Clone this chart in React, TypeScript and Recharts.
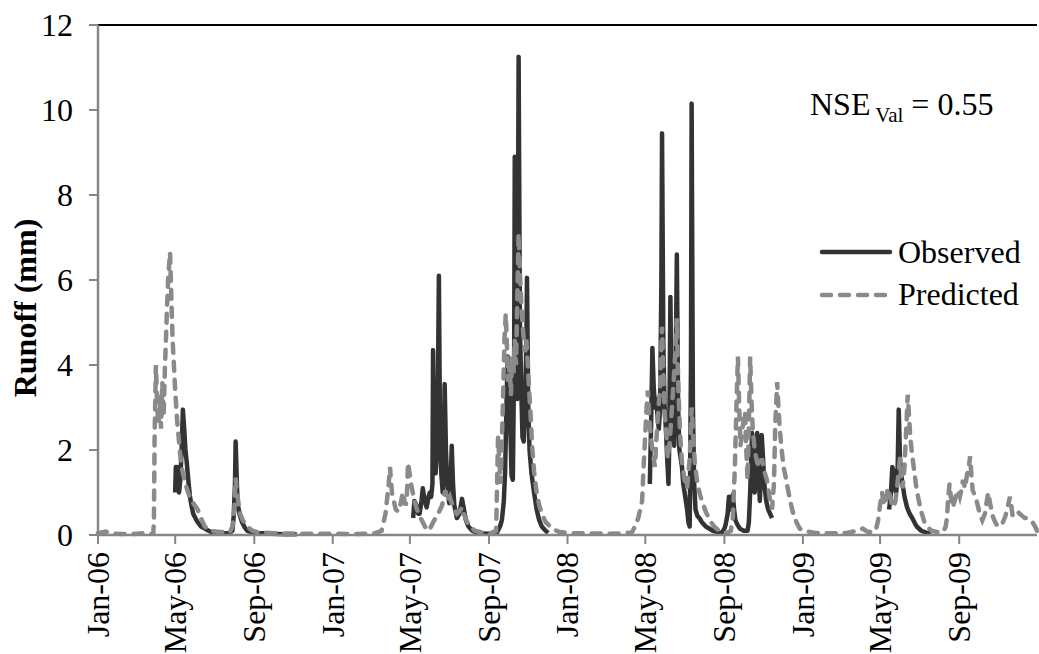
import { LineChart, Line, XAxis, YAxis, ReferenceLine, Legend } from 'recharts';

type Pt = [number, number];

const SERIF = "'Liberation Serif', 'Times New Roman', serif";

// x values are days counted from 1 Jan 2006
const tickDays = [0, 120, 243, 365, 485, 608, 730, 851, 974, 1096, 1216, 1339];
const tickLabels = [
  'Jan-06', 'May-06', 'Sep-06', 'Jan-07', 'May-07', 'Sep-07',
  'Jan-08', 'May-08', 'Sep-08', 'Jan-09', 'May-09', 'Sep-09',
];
const yTicks = [0, 2, 4, 6, 8, 10, 12];

// observed runoff (mm) - record has gaps between the wet seasons
const observed2006: Pt[] = [
  [120, 1.0], [121, 1.6], [123, 1.6], [124, 1.2], [126, 1.0], [128, 1.3], [130, 2.0], [132, 2.95],
  [134, 2.5], [136, 2.0], [138, 1.7], [141, 1.2], [143, 0.9], [146, 0.65], [148, 0.5], [152, 0.38],
  [155, 0.3], [160, 0.2], [166, 0.15], [172, 0.1], [179, 0.05], [194, 0.04], [205, 0.05], [209, 0.1],
  [211, 0.45], [213, 1.2], [214, 2.2], [216, 1.2], [217, 0.75], [220, 0.5], [224, 0.3], [228, 0.18],
  [232, 0.1], [240, 0.06], [247, 0.05], [270, 0.03], [290, 0.02], [309, 0.02],
];
const observed2007: Pt[] = [
  [490, 0.4], [492, 0.8], [495, 0.7], [498, 0.5], [500, 0.5], [503, 0.8], [505, 1.1], [508, 0.8],
  [511, 0.65], [514, 0.9], [516, 1.0], [518, 0.9], [520, 1.2], [521, 4.35], [523, 2.0], [525, 1.45],
  [528, 2.5], [530, 6.1], [532, 2.0], [534, 1.4], [536, 1.0], [538, 2.5], [539, 3.55], [541, 2.0],
  [543, 1.2], [546, 0.75], [548, 1.0], [550, 2.1], [552, 1.2], [554, 0.7], [558, 0.4], [562, 0.5],
  [566, 0.85], [569, 0.6], [572, 0.35], [576, 0.2], [582, 0.1], [590, 0.05], [605, 0.03], [620, 0.05],
  [625, 0.2], [628, 0.35], [631, 0.8], [633, 1.5], [635, 3.0], [637, 4.2], [639, 3.8], [641, 2.6],
  [643, 1.4], [645, 1.3], [647, 4.0], [648, 8.9], [650, 4.5], [652, 3.2], [654, 11.25], [656, 5.0],
  [658, 3.5], [660, 2.3], [662, 2.2], [664, 3.0], [666, 4.5], [667, 6.05], [669, 3.0], [671, 2.0],
  [674, 1.45], [678, 1.0], [682, 0.6], [686, 0.35], [690, 0.2], [696, 0.1], [700, 0.05],
];
const observed2008: Pt[] = [
  [858, 1.2], [860, 2.6], [862, 4.4], [864, 3.5], [866, 3.0], [868, 3.2], [870, 2.8], [872, 2.5],
  [874, 3.0], [876, 6.0], [877, 9.45], [879, 4.5], [881, 3.0], [883, 2.5], [885, 1.8], [887, 1.2],
  [888, 2.0], [890, 5.6], [892, 3.0], [894, 2.4], [896, 2.1], [898, 3.5], [900, 6.6], [902, 3.0],
  [904, 2.0], [906, 1.8], [908, 1.6], [910, 1.2], [912, 1.0], [914, 0.8], [916, 0.6], [918, 0.3],
  [920, 0.2], [922, 4.0], [923, 10.15], [925, 3.0], [927, 1.2], [929, 0.6], [932, 0.45], [935, 0.4],
  [939, 0.3], [945, 0.2], [956, 0.1], [965, 0.06], [970, 0.05], [974, 0.15], [976, 0.25], [979, 0.5],
  [981, 0.9], [983, 0.7], [985, 0.6], [987, 0.95], [989, 0.6], [991, 0.35], [994, 0.25], [998, 0.15],
  [1004, 0.1], [1010, 0.1], [1012, 0.3], [1014, 1.0], [1017, 2.4], [1019, 1.4], [1021, 1.0], [1023, 1.6],
  [1025, 2.4], [1027, 1.5], [1029, 0.8], [1031, 1.5], [1032, 2.35], [1034, 1.8], [1036, 1.2], [1039, 0.8],
  [1042, 0.6], [1045, 0.5], [1048, 0.4],
];
const observed2009: Pt[] = [
  [1230, 0.6], [1233, 1.0], [1235, 1.6], [1237, 1.5], [1239, 1.1], [1241, 1.0], [1243, 1.3], [1245, 2.95],
  [1247, 1.8], [1249, 1.4], [1251, 1.2], [1254, 0.9], [1258, 0.65], [1262, 0.5], [1266, 0.4], [1270, 0.28],
  [1273, 0.2], [1280, 0.1], [1289, 0.05], [1296, 0.03],
];

// predicted runoff (mm), continuous
const predicted2006: Pt[] = [
  [0, 0.04], [12, 0.08], [25, 0.03], [50, 0.02], [70, 0.04], [86, 0.03], [87, 0.4], [88, 2.3],
  [90, 4.0], [92, 3.0], [94, 2.6], [96, 3.3], [98, 2.5], [100, 3.6], [102, 2.8], [104, 3.9],
  [107, 5.2], [109, 6.0], [112, 6.65], [114, 5.6], [116, 4.6], [118, 4.0], [120, 3.4], [123, 2.7],
  [126, 2.2], [129, 1.7], [132, 1.45], [136, 1.2], [140, 1.0], [144, 0.85], [148, 0.75], [155, 0.6],
  [160, 0.4], [166, 0.2], [174, 0.1], [190, 0.07], [205, 0.06], [209, 0.2], [212, 0.6], [214, 1.35],
  [216, 1.0], [218, 0.8], [221, 0.5], [225, 0.35], [232, 0.2], [240, 0.1], [250, 0.06], [280, 0.04],
  [320, 0.03], [360, 0.03], [400, 0.02], [430, 0.04],
];
const predicted2007: Pt[] = [
  [441, 0.1], [447, 0.5], [452, 1.2], [454, 1.6], [457, 1.0], [460, 0.8], [463, 0.6], [467, 0.55],
  [470, 0.7], [474, 1.0], [478, 0.7], [480, 0.8], [482, 1.7], [485, 1.4], [488, 1.1], [492, 0.8],
  [496, 0.6], [500, 0.45], [505, 0.3], [510, 0.15], [514, 0.1], [518, 0.2], [521, 0.3], [525, 0.4],
  [529, 0.5], [532, 0.6], [535, 0.7], [538, 0.9], [540, 1.05], [542, 0.85], [544, 0.8], [547, 0.9],
  [550, 0.75], [554, 0.6], [558, 0.5], [562, 0.55], [566, 0.65], [570, 0.45], [574, 0.3], [580, 0.18],
  [586, 0.1], [600, 0.05], [612, 0.05], [619, 0.1], [620, 0.8], [622, 2.3], [624, 1.8], [626, 1.2],
  [629, 2.8], [632, 4.6], [634, 5.2], [636, 4.4], [638, 3.6], [640, 4.0], [642, 3.3], [644, 4.2],
  [646, 3.8], [648, 4.6], [650, 4.0], [652, 5.6], [654, 7.1], [656, 6.2], [658, 5.5], [660, 5.0],
  [662, 4.6], [664, 4.3], [666, 4.6], [668, 4.1], [670, 3.5], [672, 3.0], [675, 2.1], [678, 1.5],
  [682, 1.0], [686, 0.7], [690, 0.5], [696, 0.3], [703, 0.2], [710, 0.12], [718, 0.07], [730, 0.05],
  [742, 0.04],
];
const predicted2008: Pt[] = [
  [760, 0.04], [790, 0.03], [815, 0.04], [830, 0.06], [835, 0.2], [840, 0.4], [843, 0.6], [846, 0.8],
  [848, 1.5], [850, 2.1], [853, 3.0], [855, 3.4], [857, 2.8], [859, 2.4], [862, 2.0], [866, 1.6],
  [868, 2.2], [871, 2.9], [874, 3.5], [877, 4.9], [879, 3.8], [881, 2.9], [884, 2.3], [886, 1.8],
  [889, 2.2], [892, 2.9], [895, 3.6], [898, 4.4], [900, 5.1], [902, 3.6], [905, 2.4], [908, 1.7],
  [912, 1.3], [916, 1.1], [920, 1.8], [923, 3.0], [926, 2.2], [928, 1.7], [932, 1.2], [936, 0.95],
  [939, 0.8], [945, 0.55], [951, 0.35], [958, 0.2], [967, 0.08], [978, 0.05], [984, 0.1], [987, 0.4],
  [990, 1.5], [993, 3.2], [995, 4.2], [997, 3.0], [999, 2.1], [1002, 2.5], [1006, 2.9], [1008, 2.0],
  [1010, 1.3], [1012, 2.6], [1014, 4.2], [1016, 3.2], [1018, 2.5], [1021, 2.0], [1025, 1.7], [1029, 1.6],
  [1032, 1.8], [1036, 1.5], [1040, 1.3], [1044, 0.9], [1048, 0.6], [1051, 1.2], [1053, 2.6], [1056, 3.6],
  [1058, 3.0], [1060, 2.5], [1063, 2.0], [1066, 1.6], [1070, 1.3], [1073, 1.05], [1077, 0.75], [1081, 0.5],
  [1086, 0.3], [1091, 0.15], [1100, 0.09], [1107, 0.07],
];
const predicted2009: Pt[] = [
  [1115, 0.05], [1140, 0.04], [1165, 0.05], [1180, 0.1], [1189, 0.15], [1196, 0.08], [1205, 0.06], [1210, 0.15],
  [1213, 0.35], [1216, 0.7], [1219, 1.0], [1221, 0.8], [1223, 0.7], [1226, 0.9], [1228, 1.1], [1231, 0.95],
  [1234, 0.75], [1237, 0.65], [1240, 0.8], [1243, 1.2], [1245, 1.5], [1247, 1.8], [1249, 1.3], [1251, 1.1],
  [1254, 1.6], [1257, 2.6], [1259, 3.3], [1261, 2.8], [1263, 2.3], [1265, 2.0], [1267, 1.75], [1270, 1.4],
  [1273, 1.05], [1277, 0.75], [1281, 0.5], [1285, 0.3], [1289, 0.2], [1296, 0.1], [1304, 0.07], [1314, 0.07],
  [1318, 0.2], [1320, 0.4], [1322, 0.9], [1324, 1.2], [1326, 0.9], [1329, 0.65], [1332, 0.8], [1335, 1.0],
  [1337, 1.05], [1340, 0.9], [1343, 1.1], [1345, 1.3], [1348, 1.1], [1351, 1.4], [1354, 1.6], [1356, 1.85],
  [1358, 1.4], [1360, 1.05], [1363, 0.95], [1367, 0.75], [1371, 0.5], [1375, 0.35], [1379, 0.5], [1382, 0.8],
  [1384, 1.0], [1387, 0.75], [1391, 0.45], [1395, 0.3], [1399, 0.2], [1403, 0.25], [1407, 0.3], [1411, 0.45],
  [1415, 0.7], [1418, 0.9], [1420, 0.7], [1422, 0.45], [1426, 0.5], [1430, 0.55], [1433, 0.5], [1437, 0.45],
  [1441, 0.4], [1444, 0.4], [1448, 0.35], [1453, 0.3], [1457, 0.2], [1460, 0.1],
];

type Row = { day: number; runoff: number | null };

// join segments, putting a null between them so the line breaks
function toRows(segments: Pt[][], breakBetween: boolean): Row[] {
  const rows: Row[] = [];
  segments.forEach((seg, i) => {
    seg.forEach(([day, runoff]) => rows.push({ day, runoff }));
    if (breakBetween && i < segments.length - 1) {
      rows.push({ day: seg[seg.length - 1][0] + 1, runoff: null });
    }
  });
  return rows;
}

const observedRows = toRows([observed2006, observed2007, observed2008, observed2009], true);
const predictedRows = toRows([predicted2006, predicted2007, predicted2008, predicted2009], false);

const OBS_COLOR = '#333333';
const PRED_COLOR = '#8a8a8a';
const AXIS_COLOR = '#868686';
const PRED_DASH = '9 9';

const DateTick = (props: any) => {
  const { x, y, payload } = props;
  const label = tickLabels[tickDays.indexOf(payload.value)];
  return (
    <text
      x={x}
      y={y}
      dy="0.34em"
      transform={`rotate(-90 ${x} ${y})`}
      textAnchor="end"
      fontSize={32}
      style={{ fontFamily: SERIF }}
      fill="#000"
    >
      {label}
    </text>
  );
};

const YTitle = () => (
  <text
    x={25}
    y={308}
    dy="0.34em"
    transform="rotate(-90 25 308)"
    textAnchor="middle"
    fontSize={32}
    fontWeight="bold"
    style={{ fontFamily: SERIF }}
    fill="#000"
  >
    Runoff (mm)
  </text>
);

const LegendBox = () => (
  <svg width={220} height={90} style={{ display: 'block' }}>
    <line x1={4} x2={72} y1={20} y2={20} stroke={OBS_COLOR} strokeWidth={4.5} strokeLinecap="round" />
    <text x={80} y={31} fontSize={32} style={{ fontFamily: SERIF }} fill="#000">Observed</text>
    <line x1={4} x2={72} y1={63} y2={63} stroke={PRED_COLOR} strokeWidth={4.5} strokeDasharray={PRED_DASH} strokeLinecap="round" />
    <text x={80} y={73} fontSize={32} style={{ fontFamily: SERIF }} fill="#000">Predicted</text>
  </svg>
);

export default function App() {
  return (
    <div style={{ position: 'absolute', left: 0, top: 0, width: 1039, height: 654, background: '#fff', fontFamily: SERIF }}>
      <LineChart width={1039} height={654} margin={{ top: 25, right: 2, bottom: 0, left: 38 }}>
        <XAxis
          dataKey="day"
          type="number"
          domain={[0, 1460]}
          ticks={tickDays}
          interval={0}
          height={119}
          allowDuplicatedCategory={false}
          tick={<DateTick />}
          tickSize={9}
          tickMargin={8}
          axisLine={{ stroke: AXIS_COLOR, strokeWidth: 2.5 }}
          tickLine={{ stroke: AXIS_COLOR, strokeWidth: 2 }}
        />
        <YAxis
          type="number"
          domain={[0, 12]}
          ticks={yTicks}
          interval={0}
          width={60}
          tickSize={9}
          tickMargin={16}
          tick={{ fontSize: 32, fontFamily: SERIF, fill: '#000' }}
          axisLine={{ stroke: AXIS_COLOR, strokeWidth: 2.5 }}
          tickLine={{ stroke: AXIS_COLOR, strokeWidth: 2 }}
          label={<YTitle />}
        />
        <ReferenceLine y={12} stroke="#000" strokeWidth={2} />
        <Line
          data={observedRows}
          dataKey="runoff"
          name="Observed"
          type="linear"
          stroke={OBS_COLOR}
          strokeWidth={4.5}
          strokeLinejoin="round"
          dot={false}
          activeDot={false}
          isAnimationActive={false}
        />
        <Line
          data={predictedRows}
          dataKey="runoff"
          name="Predicted"
          type="linear"
          stroke={PRED_COLOR}
          strokeWidth={4.5}
          strokeDasharray={PRED_DASH}
          strokeLinecap="round"
          dot={false}
          activeDot={false}
          isAnimationActive={false}
        />
        <Legend
          layout="vertical"
          align="center"
          verticalAlign="middle"
          content={<LegendBox />}
          wrapperStyle={{ left: 818, top: 232, width: 220, height: 90 }}
        />
      </LineChart>
      <svg
        width={1039}
        height={654}
        style={{ position: 'absolute', left: 0, top: 0, pointerEvents: 'none' }}
      >
        <text x={810} y={115} fontSize={32} style={{ fontFamily: SERIF }} fill="#000">
          NSE
          <tspan fontSize={21} dy={7}> Val</tspan>
          <tspan dy={-7}> = 0.55</tspan>
        </text>
      </svg>
    </div>
  );
}
